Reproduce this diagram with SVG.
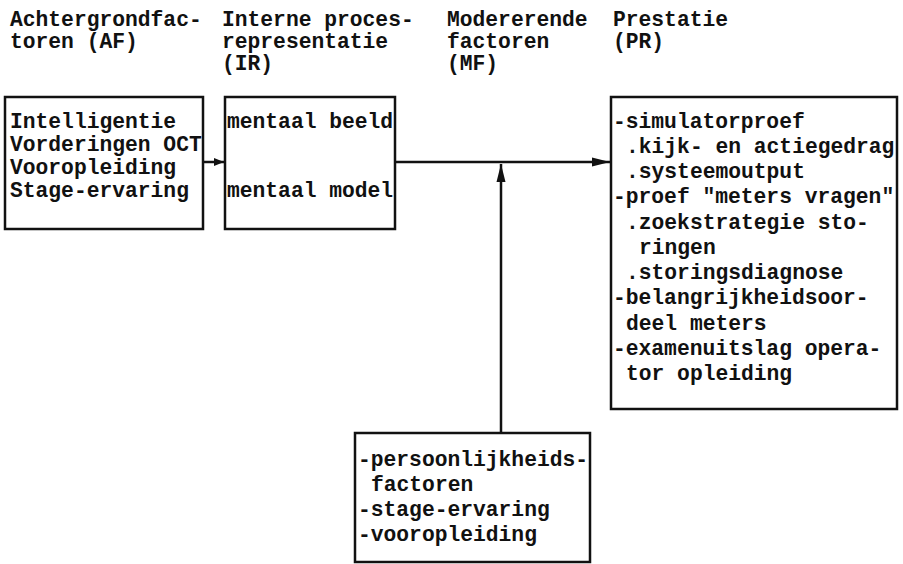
<svg xmlns="http://www.w3.org/2000/svg" width="903" height="564" viewBox="0 0 903 564">
<defs>
<style>
text{font-family:"Liberation Mono","DejaVu Sans Mono",monospace;font-size:21.3px;font-weight:bold;fill:#111;}
.box{fill:none;stroke:#111;stroke-width:2.5;}
.ln{fill:none;stroke:#111;stroke-width:2.5;}
</style>
<marker id="ah" markerWidth="10" markerHeight="8" refX="10" refY="4" orient="auto" markerUnits="userSpaceOnUse">
<path d="M0,0 L10,4 L0,8 Z" fill="#111"/>
</marker>
<marker id="ah2" markerWidth="18" markerHeight="10" refX="18" refY="5" orient="auto" markerUnits="userSpaceOnUse">
<path d="M0,0.5 L18,5 L0,9.5 Z" fill="#111"/>
</marker>
</defs>
<rect width="903" height="564" fill="#fff"/>
<g id="headers">
<text x="10" y="26">Achtergrondfac-</text>
<text x="10" y="48">toren (AF)</text>
<text x="222" y="26">Interne proces-</text>
<text x="222" y="48">representatie</text>
<text x="222" y="70">(IR)</text>
<text x="447" y="26">Modererende</text>
<text x="447" y="48">factoren</text>
<text x="447" y="70">(MF)</text>
<text x="613" y="26">Prestatie</text>
<text x="613" y="48">(PR)</text>
</g>
<g id="connectors">
<line class="ln" x1="203" y1="162" x2="224" y2="162" marker-end="url(#ah)"/>
<line class="ln" x1="395" y1="162" x2="610" y2="162" marker-end="url(#ah2)"/>
<line class="ln" x1="501" y1="433" x2="501" y2="164" marker-end="url(#ah2)"/>
</g>
<g id="AF">
<rect class="box" x="5" y="97" width="198" height="132"/>
<text x="10" y="128">Intelligentie</text>
<text x="10" y="151">Vorderingen OCT</text>
<text x="10" y="174">Vooropleiding</text>
<text x="10" y="197">Stage-ervaring</text>
</g>
<g id="IR">
<rect class="box" x="225" y="97" width="170" height="132"/>
<text x="227" y="128">mentaal beeld</text>
<text x="227" y="197">mentaal model</text>
</g>
<g id="PR">
<rect class="box" x="611" y="97" width="286" height="312"/>
<text x="613" y="128">-simulatorproef</text>
<text x="626" y="153">.kijk- en actiegedrag</text>
<text x="626" y="178">.systeemoutput</text>
<text x="613" y="203">-proef "meters vragen"</text>
<text x="626" y="229">.zoekstrategie sto-</text>
<text x="639" y="254">ringen</text>
<text x="626" y="279">.storingsdiagnose</text>
<text x="613" y="304">-belangrijkheidsoor-</text>
<text x="626" y="330">deel meters</text>
<text x="613" y="355">-examenuitslag opera-</text>
<text x="626" y="380">tor opleiding</text>
</g>
<g id="MF">
<rect class="box" x="355" y="433" width="235" height="129"/>
<text x="358" y="466">-persoonlijkheids-</text>
<text x="371" y="491">factoren</text>
<text x="358" y="516">-stage-ervaring</text>
<text x="358" y="541">-vooropleiding</text>
</g>
</svg>
